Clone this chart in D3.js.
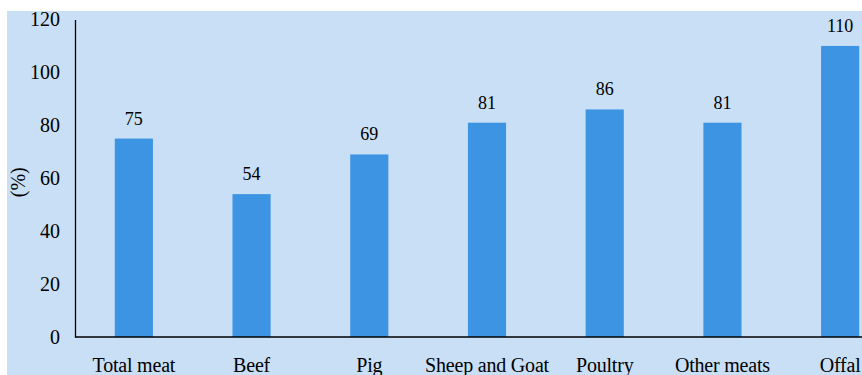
<!DOCTYPE html>
<html>
<head>
<meta charset="utf-8">
<script src="https://cdn.jsdelivr.net/npm/d3@7"></script>
<style>
  html, body { margin: 0; padding: 0; background: #ffffff; }
  svg { display: block; }
</style>
</head>
<body>
<svg id="chart" width="862" height="375"></svg>
<script>
// Meat categories and their percentage values
const categories = ["Total meat", "Beef", "Pig", "Sheep and Goat", "Poultry", "Other meats", "Offal"];
const values = [75, 54, 69, 81, 86, 81, 110];
const yTicks = [0, 20, 40, 60, 80, 100, 120];
const yLabel = "(%)";

const FONT = "'Liberation Serif', 'Times New Roman', Times, serif";
const svg = d3.select("#chart").style("font-family", FONT);
const W = 862, H = 375;

// panel background
svg.append("rect")
  .attr("x", 7).attr("y", 11)
  .attr("width", W - 7).attr("height", H - 11)
  .attr("fill", "#c9dff5");

const x0 = 75, yTop = 19.5, yBase = 337;
const x = d3.scaleBand()
  .domain(categories)
  .range([x0, x0 + 824])
  .paddingInner(0.676)
  .paddingOuter(0.338);

const y = d3.scaleLinear().domain([0, 120]).range([yBase, yTop]);

// bars
svg.append("g").selectAll("rect")
  .data(categories)
  .join("rect")
  .attr("x", d => x(d))
  .attr("y", (d, i) => y(values[i]))
  .attr("width", x.bandwidth())
  .attr("height", (d, i) => y(0) - y(values[i]))
  .attr("fill", "#3d94e3");

// value labels
svg.append("g").selectAll("text")
  .data(categories)
  .join("text")
  .attr("x", d => x(d) + x.bandwidth() / 2)
  .attr("y", (d, i) => y(values[i]) - 14)
  .attr("text-anchor", "middle")
  .style("font-family", FONT)
  .style("font-size", "18px")
  .attr("fill", "#000")
  .text((d, i) => values[i]);

// y axis
const yAxis = svg.append("g")
  .attr("transform", `translate(${x0},0)`)
  .call(d3.axisLeft(y).tickValues(yTicks).tickSize(0).tickPadding(15));
yAxis.select(".domain").attr("stroke", "#000").attr("stroke-width", 1.3);
yAxis.selectAll("text")
  .style("font-family", FONT)
  .style("font-size", "20px")
  .attr("fill", "#000");

// x axis baseline and category labels
const xAxis = svg.append("g")
  .attr("transform", `translate(0,${yBase})`)
  .call(d3.axisBottom(x).tickSize(0).tickPadding(21));
xAxis.select(".domain").attr("stroke", "#000").attr("stroke-width", 1.3)
  .attr("d", `M${x0},0H${W}`);
xAxis.selectAll("text")
  .style("font-family", FONT)
  .style("font-size", "20px")
  .style("letter-spacing", "-0.2px")
  .attr("fill", "#000");

// y axis title
svg.append("text")
  .attr("transform", `translate(25,${(yTop + yBase) / 2 + 4}) rotate(-90)`)
  .attr("text-anchor", "middle")
  .style("font-family", FONT)
  .style("font-size", "20px")
  .attr("fill", "#000")
  .text(yLabel);
</script>
</body>
</html>
